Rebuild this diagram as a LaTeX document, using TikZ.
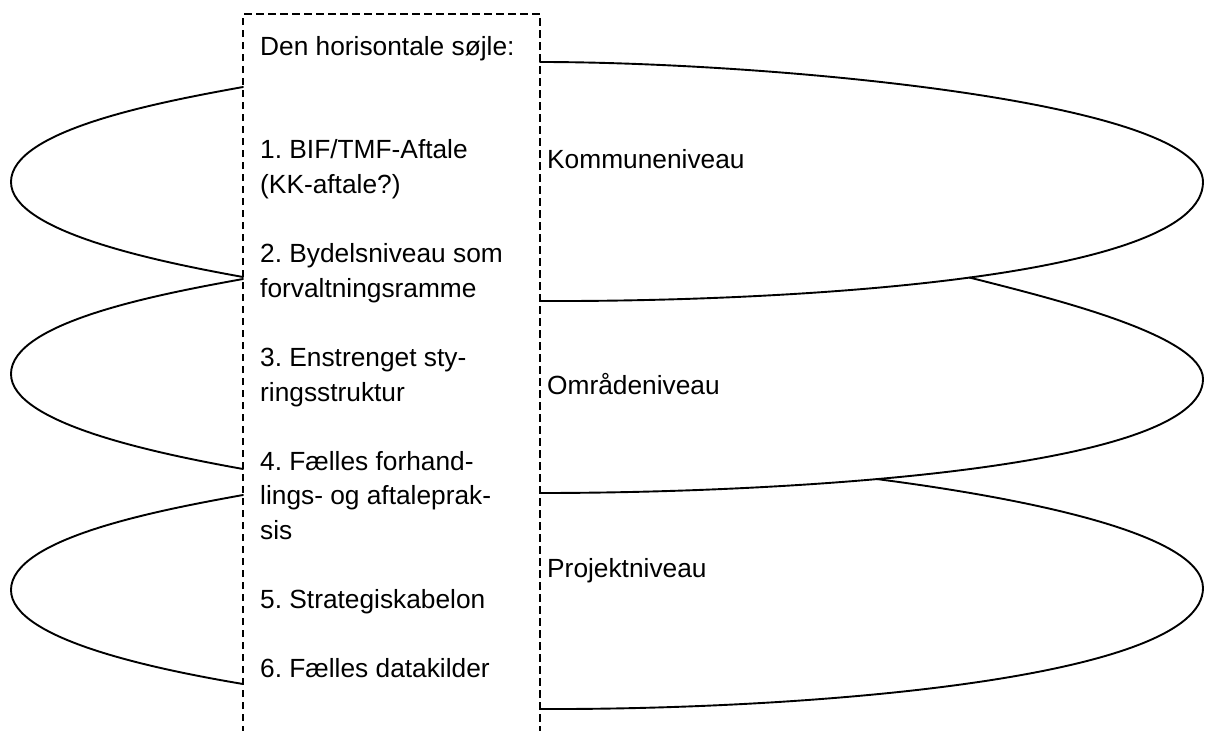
\documentclass[tikz,border=0pt]{standalone}
\usepackage{fontspec}
\setmainfont{Liberation Sans}
\frenchspacing
\begin{document}
\begin{tikzpicture}[x=1pt,y=-1pt,
  loopline/.style={line width=1.9pt, line join=round, line cap=round},
  colline/.style={line width=1.3pt, dash pattern=on 7.5pt off 4.5pt},
  txt/.style={anchor=base west, inner sep=0pt, font=\fontsize{26.3}{34.6}\selectfont}]
\useasboundingbox (0,0) rectangle (1205,731);
\clip (0,0) rectangle (1205,731);

% the column
\coordinate (cBL) at (243,745);
\coordinate (cTL) at (243,14);
\coordinate (cTR) at (540,14);
\coordinate (cBR) at (540,745);
\draw[colline] (cBL) -- (cTL) -- (cTR) -- (cBR);

% left halves of the rings
\draw[loopline] (243,87) .. controls (160,102) and (11,130) .. (11,182)
                .. controls (11,232) and (160,262) .. (243,277);
\draw[loopline] (243,279) .. controls (160,294) and (11,322) .. (11,374)
                .. controls (11,424) and (160,454) .. (243,469);
\draw[loopline] (243,495) .. controls (160,510) and (11,538) .. (11,590)
                .. controls (11,640) and (160,670) .. (243,684);

% right halves of the rings
\draw[loopline] (540,62) .. controls (760,62) and (1203,100) .. (1203,182)
                .. controls (1203,280) and (780,302) .. (540,301) coordinate[pos=0.49] (k1);
\draw[loopline] (k1) .. controls (1050,298) and (1203,335) .. (1203,379)
                .. controls (1203,470) and (780,493) .. (540,493) coordinate[pos=0.6] (k2);
\draw[loopline] (k2) .. controls (1000,495) and (1203,530) .. (1203,588)
                .. controls (1203,680) and (800,710) .. (540,709);

% column text
\node[txt] (head) at (260,55) {Den horisontale søjle:};
\node[txt] (i1a) at (260,158.8) {1. BIF/TMF-Aftale};
\node[txt] (i1b) at (260,193.4) {(KK-aftale?)};
\node[txt] (i2a) at (260,262.6) {2. Bydelsniveau som};
\node[txt] (i2b) at (260,297.2) {forvaltningsramme};
\node[txt] (i3a) at (260,366.4) {3. Enstrenget sty-};
\node[txt] (i3b) at (260,401) {ringsstruktur};
\node[txt] (i4a) at (260,470.2) {4. Fælles forhand-};
\node[txt] (i4b) at (260,504.8) {lings- og aftaleprak-};
\node[txt] (i4c) at (260,539.4) {sis};
\node[txt] (i5) at (260,608.6) {5. Strategiskabelon};
\node[txt] (i6) at (260,677.8) {6. Fælles datakilder};

% level labels
\node[txt] (lk) at (547,168) {Kommuneniveau};
\node[txt] (lo) at (547,394) {Områdeniveau};
\node[txt] (lp) at (547,577) {Projektniveau};
\end{tikzpicture}
\end{document}
